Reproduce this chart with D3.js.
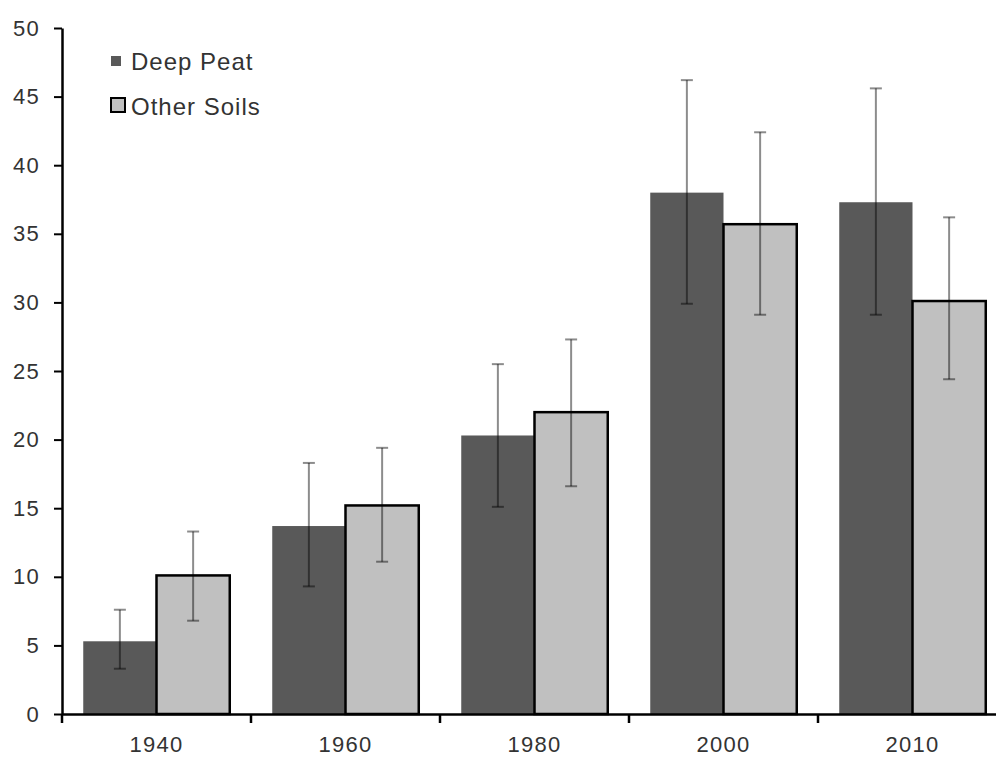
<!DOCTYPE html>
<html>
<head>
<meta charset="utf-8">
<script src="https://cdn.jsdelivr.net/npm/d3@7"></script>
<style>
  body { margin: 0; background: #fff; }
  text { font-family: "Liberation Sans", Arial, sans-serif; fill: #333; }
</style>
</head>
<body>
<div id="chart"></div>
<script>
const years = ['1940', '1960', '1980', '2000', '2010'];
const series = ['Deep Peat', 'Other Soils'];
const deepPeat = [5.3, 13.7, 20.3, 38.0, 37.3];
const deepPeatLow = [3.3, 9.3, 15.1, 29.9, 29.1];
const deepPeatHigh = [7.6, 18.3, 25.5, 46.2, 45.6];
const otherSoils = [10.1, 15.2, 22.0, 35.7, 30.1];
const otherSoilsLow = [6.8, 11.1, 16.6, 29.1, 24.4];
const otherSoilsHigh = [13.3, 19.4, 27.3, 42.4, 36.2];
const yTicks = [0, 5, 10, 15, 20, 25, 30, 35, 40, 45, 50];

const colors = {'Deep Peat': '#595959', 'Other Soils': '#c0c0c0'};

const data = [];
years.forEach((y, i) => {
    data.push({year: y, key: 'Deep Peat', value: deepPeat[i], lo: deepPeatLow[i], hi: deepPeatHigh[i]});
    data.push({year: y, key: 'Other Soils', value: otherSoils[i], lo: otherSoilsLow[i], hi: otherSoilsHigh[i]});
});

const margin = {top: 28, right: 0, bottom: 44, left: 62};
const W = 996, H = 758;
const width = 945,
    height = H - margin.top - margin.bottom;

const svg = d3.select('#chart').append('svg')
    .attr('width', W)
    .attr('height', H)
    .append('g')
    .attr('transform', `translate(${margin.left}, ${margin.top})`);

const x0 = d3.scaleBand()
    .domain(years)
    .range([0, width])
    .padding(0);

const x1 = d3.scaleBand()
    .domain(series)
    .range([0, x0.bandwidth()])
    .paddingInner(0)
    .paddingOuter(0.29);

const yScale = d3.scaleLinear()
    .domain([0, 50])
    .range([height, 0]);

// bars
svg.selectAll('rect.bar')
    .data(data)
    .enter()
    .append('rect')
    .attr('class', 'bar')
    .attr('x', d => x0(d.year) + x1(d.key))
    .attr('width', x1.bandwidth())
    .attr('y', d => yScale(d.value))
    .attr('height', d => yScale(0) - yScale(d.value))
    .attr('fill', d => colors[d.key])
    .attr('stroke', d => d.key === 'Other Soils' ? '#000' : 'none')
    .attr('stroke-width', 2.5);

// error bars
const err = svg.append('g')
    .attr('stroke', '#000')
    .attr('stroke-opacity', 0.45)
    .attr('stroke-width', 2);

data.forEach(d => {
    const cx = x0(d.year) + x1(d.key) + x1.bandwidth() / 2;
    err.append('line')
        .attr('x1', cx).attr('x2', cx)
        .attr('y1', yScale(d.lo)).attr('y2', yScale(d.hi));
    err.append('line')
        .attr('x1', cx - 6).attr('x2', cx + 6)
        .attr('y1', yScale(d.lo)).attr('y2', yScale(d.lo));
    err.append('line')
        .attr('x1', cx - 6).attr('x2', cx + 6)
        .attr('y1', yScale(d.hi)).attr('y2', yScale(d.hi));
});

// y axis
const yAxis = d3.axisLeft(yScale)
    .tickValues(yTicks)
    .tickSize(8)
    .tickPadding(14)
    .tickSizeOuter(0);

const yAxisGroup = svg.append('g')
    .attr('class', 'axis y-axis')
    .call(yAxis);

// x axis
const xAxis = d3.axisBottom(x0)
    .tickSize(0)
    .tickPadding(22)
    .tickSizeOuter(0);

const xAxisGroup = svg.append('g')
    .attr('class', 'axis x-axis')
    .attr('transform', `translate(0, ${height})`)
    .call(xAxis);

// x ticks between groups
xAxisGroup.selectAll('line.sep')
    .data(years)
    .enter()
    .append('line')
    .attr('class', 'sep')
    .attr('x1', d => x0(d)).attr('x2', d => x0(d))
    .attr('y1', 0).attr('y2', 9)
    .attr('stroke', '#000')
    .attr('stroke-width', 2.5);

svg.selectAll('.axis path.domain')
    .attr('stroke', '#000')
    .attr('stroke-width', 2.5);
svg.selectAll('.y-axis .tick line')
    .attr('stroke', '#000')
    .attr('stroke-width', 2);
svg.selectAll('.axis text')
    .attr('font-size', 22)
    .attr('fill', '#333')
    .style('letter-spacing', '1.3px')
    .style('font-family', '"Liberation Sans", Arial, sans-serif');

// legend
const legend = svg.append('g')
    .attr('transform', 'translate(49, 28)');

legend.append('rect')
    .attr('x', 0).attr('y', 0)
    .attr('width', 10).attr('height', 10)
    .attr('fill', colors['Deep Peat']);
legend.append('text')
    .attr('x', 20).attr('y', 14)
    .attr('font-size', 24)
    .style('letter-spacing', '1px')
    .text('Deep Peat');

legend.append('rect')
    .attr('x', 0).attr('y', 42)
    .attr('width', 14).attr('height', 14)
    .attr('fill', colors['Other Soils'])
    .attr('stroke', '#000')
    .attr('stroke-width', 2);
legend.append('text')
    .attr('x', 20).attr('y', 59)
    .attr('font-size', 24)
    .style('letter-spacing', '1px')
    .text('Other Soils');
</script>
</body>
</html>
